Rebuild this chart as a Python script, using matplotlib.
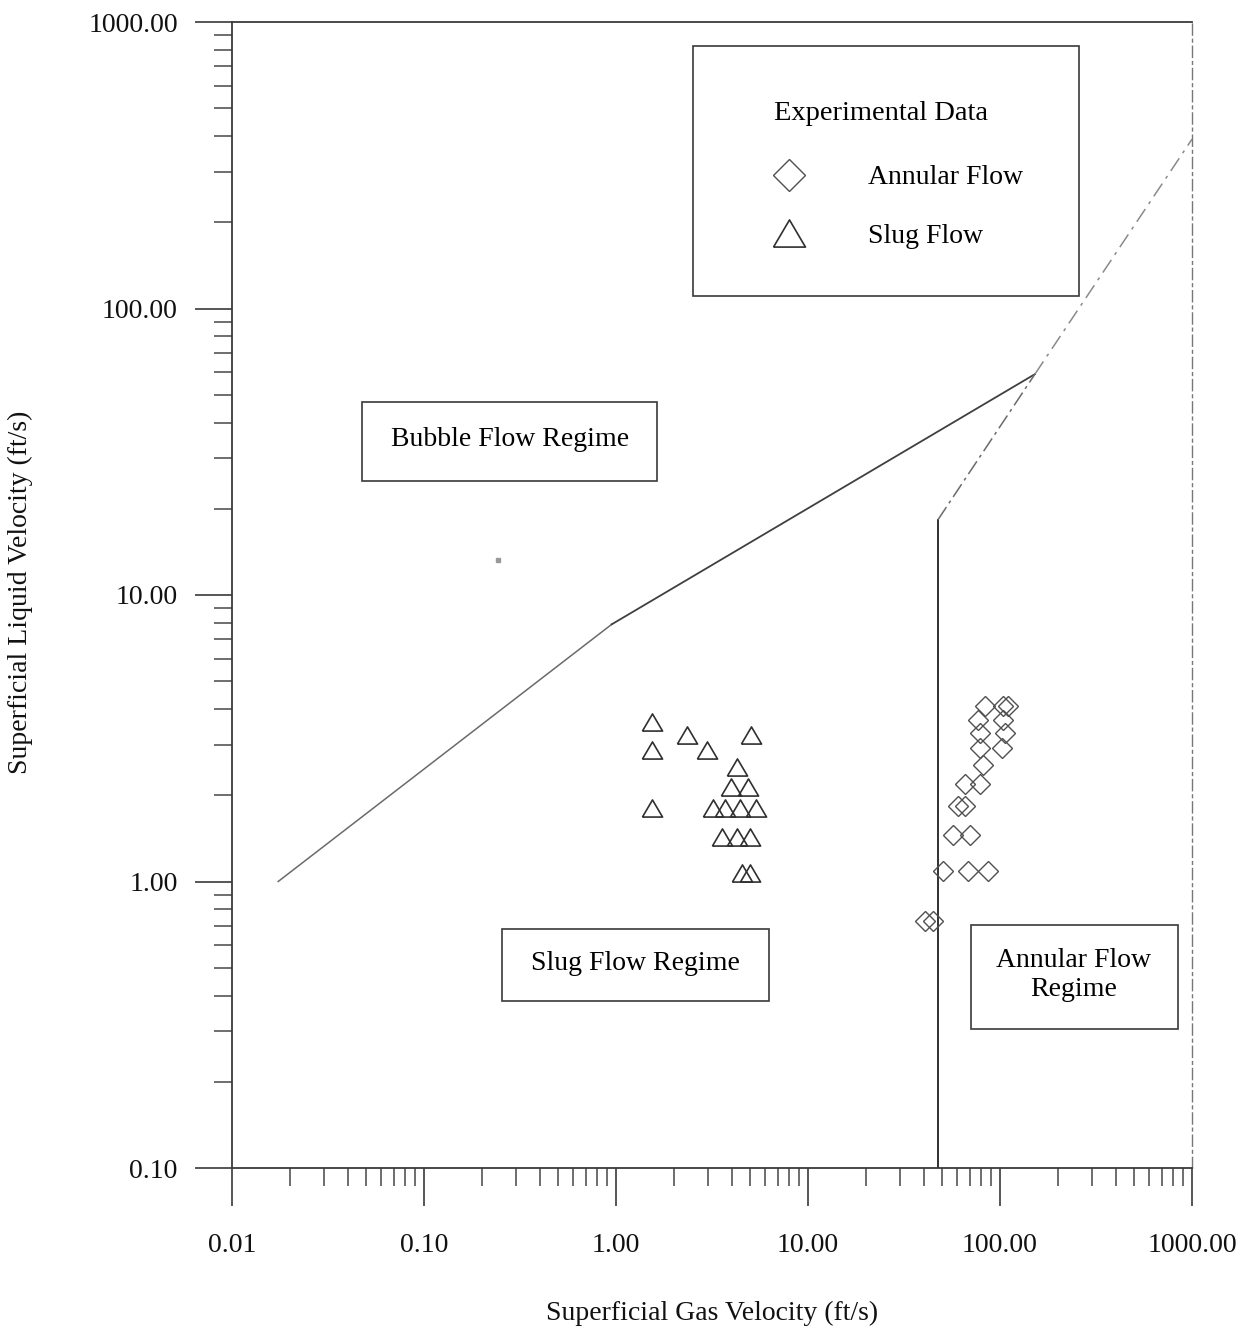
import matplotlib
matplotlib.use('Agg')
import matplotlib.pyplot as plt
from matplotlib.patches import Rectangle
from matplotlib.lines import Line2D
from matplotlib.ticker import FixedLocator, LogLocator, FormatStrFormatter, NullFormatter

W, H, DPI = 1255, 1332, 100

# ---------------- data ----------------
slug_gas = [1.54, 2.34, 5.05, 1.54, 2.98, 4.27, 3.97, 4.87, 1.54, 3.20, 3.70, 4.42,
            5.36, 3.56, 4.27, 4.99, 4.53, 4.99]
slug_liq = [3.60, 3.25, 3.25, 2.88, 2.88, 2.51, 2.14, 2.14, 1.81, 1.81, 1.81, 1.81,
            1.81, 1.43, 1.43, 1.43, 1.07, 1.07]

annular_gas = [83.5, 103.7, 110.1, 76.8, 103.7, 78.7, 106.2, 78.7, 102.4, 81.5, 65.7,
               78.7, 60.4, 65.7, 56.9, 69.8, 50.5, 68.1, 86.6, 40.6, 44.8]
annular_liq = [4.10, 4.10, 4.10, 3.66, 3.66, 3.30, 3.30, 2.92, 2.92, 2.55, 2.19,
               2.19, 1.83, 1.83, 1.45, 1.45, 1.09, 1.09, 1.09, 0.728, 0.728]

# regime boundaries
bubble_slug_x = [0.0174, 0.95, 152.0]
bubble_slug_y = [1.0, 7.9, 59.0]
upper_x = [152.0, 1000.0]
upper_y = [59.0, 390.0]
annular_vert_x = [47.5, 47.5]
annular_vert_y = [0.1, 18.3]
annular_slant_x = [47.5, 152.0]
annular_slant_y = [18.3, 59.0]

stray_x = [0.243]
stray_y = [13.2]

x_ticks = [0.01, 0.1, 1, 10, 100, 1000]
y_ticks = [0.1, 1, 10, 100, 1000]

# ---------------- figure ----------------
plt.rcParams['font.family'] = ['Liberation Serif', 'DejaVu Serif']
FS = 20
fig = plt.figure(figsize=(W / DPI, H / DPI), dpi=DPI)

def fx(px):
    return px / W

def fy(py):
    return 1 - py / H

ax = fig.add_axes([fx(232), fy(1168), fx(1192) - fx(232), fy(22) - fy(1168)])
ax.set_xscale('log')
ax.set_yscale('log')
ax.set_xlim(0.01, 1000)
ax.set_ylim(0.1, 1000)

col = '#3a3a3a'
# boundaries
ax.plot(bubble_slug_x[:2], bubble_slug_y[:2], color='#6a6a6a', lw=1.1)
ax.plot(bubble_slug_x[1:], bubble_slug_y[1:], color='#404040', lw=1.3)
ax.plot(upper_x, upper_y, color='#8a8a8a', lw=1.1, ls=(0, (10, 4, 2, 4)))
ax.plot(annular_vert_x, annular_vert_y, color='#303030', lw=1.4)
ax.plot(annular_slant_x, annular_slant_y, color='#6a6a6a', lw=1.1, ls=(0, (10, 3, 2, 3)))

# data
tri = [(-1, -0.85), (1, -0.85), (0, 0.85), (-1, -0.85)]
ann_style = dict(ls='none', marker='D', mfc='none', mec='#505050', mew=1.0)
slug_style = dict(ls='none', marker=tri, mfc='none', mec='#303030', mew=1.2)
ax.plot(annular_gas, annular_liq, ms=10, **ann_style)
ax.plot(slug_gas, slug_liq, ms=14.5, **slug_style)
ax.plot(stray_x, stray_y, ls='none', marker='s', ms=3, color='#999999')

# axes styling
for s in ['left', 'bottom', 'top']:
    ax.spines[s].set_color(col)
    ax.spines[s].set_linewidth(1.3)
ax.spines['right'].set_color('#777777')
ax.spines['right'].set_linewidth(1.0)
ax.spines['right'].set_linestyle((0, (8, 3, 2, 3)))

ax.xaxis.set_major_locator(FixedLocator(x_ticks))
ax.yaxis.set_major_locator(FixedLocator(y_ticks))
ax.xaxis.set_minor_locator(LogLocator(base=10, subs=range(2, 10)))
ax.yaxis.set_minor_locator(LogLocator(base=10, subs=range(2, 10)))
ax.xaxis.set_major_formatter(FormatStrFormatter('%.2f'))
ax.yaxis.set_major_formatter(FormatStrFormatter('%.2f'))
ax.xaxis.set_minor_formatter(NullFormatter())
ax.yaxis.set_minor_formatter(NullFormatter())

ax.tick_params(which='major', direction='out', length=27, width=1.2, color=col,
               labelsize=FS, labelcolor='#111111')
ax.tick_params(which='minor', direction='out', length=13, width=1.2, color='#555555')
ax.tick_params(axis='x', which='major', pad=20)
ax.tick_params(axis='y', which='major', pad=12)

ax.set_xlabel('Superficial Gas Velocity (ft/s)', fontsize=FS, color='#111111')
ax.set_ylabel('Superficial Liquid Velocity (ft/s)', fontsize=FS, color='#111111')
ax.xaxis.label.set_va('center')
ax.yaxis.label.set_va('center')
ax.xaxis.set_label_coords((712 - 232) / 960, (1168 - 1313) / 1146)
ax.yaxis.set_label_coords((20 - 232) / 960, (1168 - 592) / 1146)

# regime label boxes (figure-pixel layout)
def box(x0, y0, x1, y1):
    fig.patches.append(Rectangle((fx(x0), fy(y1)), fx(x1) - fx(x0), fy(y0) - fy(y1),
                                 transform=fig.transFigure, fill=False,
                                 edgecolor=col, lw=1.2))

box(362, 402, 657, 481)
fig.text(fx(510), fy(440), 'Bubble Flow Regime', fontsize=FS, ha='center', va='center')
box(502, 929, 769, 1001)
fig.text(fx(635), fy(963), 'Slug Flow Regime', fontsize=FS, ha='center', va='center')
box(971, 925, 1178, 1029)
fig.text(fx(1074), fy(975), 'Annular Flow\nRegime', fontsize=FS, ha='center', va='center',
         linespacing=1.25)

# legend
box(693, 46, 1079, 296)
handles = [Line2D([], [], ms=16, **ann_style), Line2D([], [], ms=23, **slug_style)]
leg = ax.legend(handles, ['Annular Flow', 'Slug Flow'],
                loc='upper left', bbox_to_anchor=(fx(774), fy(101)),
                bbox_transform=fig.transFigure, frameon=False, fontsize=FS,
                title='Experimental Data', title_fontsize=20.5, alignment='left',
                handlelength=1.1, handletextpad=2.3,
                labelspacing=1.2, borderpad=0, borderaxespad=0)
leg._legend_box.sep = 28

fig.savefig('out.png', dpi=DPI)
